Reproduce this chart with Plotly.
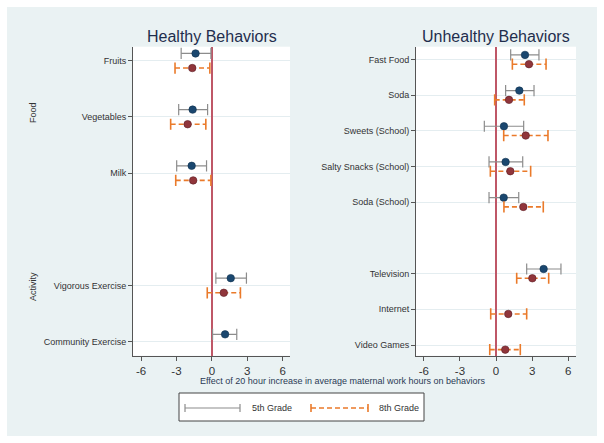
import plotly.graph_objects as go

# ---------------- data ----------------
healthy_labels = ["Fruits", "Vegetables", "Milk", "Vigorous Exercise", "Community Exercise"]
healthy_groups = ["Food", "Food", "Food", "Activity", "Activity"]
healthy_g5_est = [-1.38, -1.63, -1.71, 1.60, 1.12]
healthy_g5_lo = [-2.60, -2.81, -2.98, 0.34, 0.06]
healthy_g5_hi = [-0.08, -0.36, -0.45, 2.93, 2.11]
healthy_g8_est = [-1.66, -2.05, -1.58, 1.01, None]
healthy_g8_lo = [-3.12, -3.49, -3.06, -0.39, None]
healthy_g8_hi = [-0.17, -0.51, -0.08, 2.42, None]

unhealthy_labels = ["Fast Food", "Soda", "Sweets (School)", "Salty Snacks (School)",
                    "Soda (School)", "Television", "Internet", "Video Games"]
unhealthy_groups = ["Food", "Food", "Food", "Food", "Food", "Screen", "Screen", "Screen"]
unhealthy_g5_est = [2.41, 1.94, 0.66, 0.80, 0.64, 3.96, None, None]
unhealthy_g5_lo = [1.22, 0.80, -0.97, -0.58, -0.58, 2.55, None, None]
unhealthy_g5_hi = [3.57, 3.16, 2.30, 2.22, 1.89, 5.40, None, None]
unhealthy_g8_est = [2.74, 1.08, 2.47, 1.19, 2.27, 3.02, 1.02, 0.77]
unhealthy_g8_lo = [1.36, -0.11, 0.64, -0.47, 0.66, 1.72, -0.44, -0.52]
unhealthy_g8_hi = [4.16, 2.35, 4.32, 2.88, 3.93, 4.38, 2.55, 2.02]

x_ticks = [-6, -3, 0, 3, 6]
series_names = ["5th Grade", "8th Grade"]

# ---------------- styling ----------------
W, H = 604, 443
FONT = "Liberation Sans, Arial, sans-serif"
BG = "#eaf2f3"
C5_LINE = "#8c8c8c"
C8_LINE = "#ea7a2a"
C5_MK = "#1a476f"
C8_MK = "#90353b"
ZERO = "#bf5767"
AXIS = "#555555"
TXT = "#333333"
TITLE = "#1f2e4d"
OFF = 0.13


def px(x):
    return x / W


def py(y):
    return 1 - y / H


def positions(groups):
    pos, p, prev = [], 0, None
    for g in groups:
        if prev is not None:
            p += 2 if g != prev else 1
        pos.append(p)
        prev = g
    return pos


fig = go.Figure()


def add_series(pos, est, lo, hi, off, line_color, dash, width, mk_color, mk_edge, xa, ya):
    xs, ys, cx, cy, mx, my = [], [], [], [], [], []
    for p, e, l, h in zip(pos, est, lo, hi):
        if e is None:
            continue
        yy = p + off
        xs += [l, h, None]
        ys += [yy, yy, None]
        cx += [l, h]
        cy += [yy, yy]
        mx.append(e)
        my.append(yy)
    fig.add_trace(go.Scatter(x=xs, y=ys, mode="lines", xaxis=xa, yaxis=ya,
                             line=dict(color=line_color, width=width, dash=dash),
                             showlegend=False, hoverinfo="skip"))
    fig.add_trace(go.Scatter(x=cx, y=cy, mode="markers", xaxis=xa, yaxis=ya,
                             marker=dict(symbol="line-ns", size=8,
                                         line=dict(color=line_color, width=width)),
                             showlegend=False, hoverinfo="skip"))
    fig.add_trace(go.Scatter(x=mx, y=my, mode="markers", xaxis=xa, yaxis=ya,
                             marker=dict(symbol="circle", size=7.5, color=mk_color,
                                         line=dict(color=mk_edge, width=0.6)),
                             showlegend=False))


hpos = positions(healthy_groups)
upos = positions(unhealthy_groups)

add_series(hpos, healthy_g5_est, healthy_g5_lo, healthy_g5_hi, -OFF, C5_LINE, "solid", 1.2,
           C5_MK, "#10324f", "x", "y")
add_series(hpos, healthy_g8_est, healthy_g8_lo, healthy_g8_hi, OFF, C8_LINE, "5px,3px", 1.6,
           C8_MK, "#5e1f25", "x", "y")
add_series(upos, unhealthy_g5_est, unhealthy_g5_lo, unhealthy_g5_hi, -OFF, C5_LINE, "solid", 1.2,
           C5_MK, "#10324f", "x2", "y2")
add_series(upos, unhealthy_g8_est, unhealthy_g8_lo, unhealthy_g8_hi, OFF, C8_LINE, "5px,3px", 1.6,
           C8_MK, "#5e1f25", "x2", "y2")

xcommon = dict(range=[-6.68, 6.62], tickvals=x_ticks, ticktext=[str(t) for t in x_ticks],
               showgrid=False, zeroline=True, zerolinecolor=ZERO, zerolinewidth=1.6,
               showline=True, linecolor=AXIS, linewidth=1, ticks="outside", ticklen=4,
               tickcolor=AXIS, tickfont=dict(family=FONT, size=11.5, color=TXT))
ycommon = dict(showgrid=True, gridcolor="#e4edf0", gridwidth=1, zeroline=False,
               showline=True, linecolor=AXIS, linewidth=1, ticks="outside", ticklen=4,
               tickcolor=AXIS, tickfont=dict(family=FONT, size=9, color=TXT))

y_top, y_bot = py(46.7), py(355.7)
fig.update_layout(
    width=W, height=H, margin=dict(l=0, r=0, t=0, b=0),
    paper_bgcolor=BG, plot_bgcolor="white", showlegend=False,
    xaxis=dict(domain=[px(133), px(290)], anchor="y", **xcommon),
    yaxis=dict(domain=[y_bot, y_top], anchor="x", range=[5.25, -0.25],
               tickvals=hpos, ticktext=healthy_labels, **ycommon),
    xaxis2=dict(domain=[px(416), px(576)], anchor="y2", **{**xcommon, "range": [-6.65, 6.65]}),
    yaxis2=dict(domain=[y_bot, y_top], anchor="x2", range=[8.3, -0.36],
                tickvals=upos, ticktext=unhealthy_labels, **ycommon),
)

shapes = []
# white frame outside the light background
for x0, y0, x1, y1 in [(0, 0, W, 7), (0, 436, W, H), (0, 0, 7, H), (597, 0, W, H)]:
    shapes.append(dict(type="rect", xref="paper", yref="paper", x0=px(x0), x1=px(x1),
                       y0=py(y1), y1=py(y0), fillcolor="white", line=dict(width=0), layer="above"))
# legend box
shapes.append(dict(type="rect", xref="paper", yref="paper", x0=px(179), x1=px(424),
                   y0=py(421), y1=py(393), fillcolor="white",
                   line=dict(color="#444444", width=1), layer="above"))
ly = 408
for (x0, x1, col, dash, w) in [(185, 240, C5_LINE, "solid", 1.2), (311, 368, C8_LINE, "5px,3px", 1.6)]:
    shapes.append(dict(type="line", xref="paper", yref="paper", x0=px(x0), x1=px(x1),
                       y0=py(ly), y1=py(ly), line=dict(color=col, width=w, dash=dash), layer="above"))
    for xc in (x0, x1):
        shapes.append(dict(type="line", xref="paper", yref="paper", x0=px(xc), x1=px(xc),
                           y0=py(ly - 4), y1=py(ly + 4), line=dict(color=col, width=w), layer="above"))
fig.update_layout(shapes=shapes)

ann = []
ann.append(dict(text="Healthy Behaviors", x=px(212), y=py(36), xref="paper", yref="paper",
                showarrow=False, font=dict(family=FONT, size=16, color=TITLE),
                xanchor="center", yanchor="middle"))
ann.append(dict(text="Unhealthy Behaviors", x=px(496.5), y=py(36), xref="paper", yref="paper",
                showarrow=False, font=dict(family=FONT, size=16, color=TITLE),
                xanchor="center", yanchor="middle"))
ann.append(dict(text="Effect of 20 hour increase in average maternal work hours on behaviors",
                x=px(342), y=py(381), xref="paper", yref="paper", showarrow=False,
                font=dict(family=FONT, size=9, color="#2a3a55"), xanchor="center", yanchor="middle"))
ann.append(dict(text="Food", x=px(33), y=py(113), xref="paper", yref="paper", showarrow=False,
                textangle=-90, font=dict(family=FONT, size=9, color=TXT),
                xanchor="center", yanchor="middle"))
ann.append(dict(text="Activity", x=px(33), y=py(287), xref="paper", yref="paper", showarrow=False,
                textangle=-90, font=dict(family=FONT, size=9, color=TXT),
                xanchor="center", yanchor="middle"))
ann.append(dict(text=series_names[0], x=px(250), y=py(ly), xref="paper", yref="paper",
                showarrow=False, font=dict(family=FONT, size=9, color=TXT),
                xanchor="left", yanchor="middle"))
ann.append(dict(text=series_names[1], x=px(377), y=py(ly), xref="paper", yref="paper",
                showarrow=False, font=dict(family=FONT, size=9, color=TXT),
                xanchor="left", yanchor="middle"))
fig.update_layout(annotations=ann)

fig.write_html("out.html", config={"displayModeBar": False},
               post_script="document.body.style.margin='0';document.body.style.overflow='hidden';")
